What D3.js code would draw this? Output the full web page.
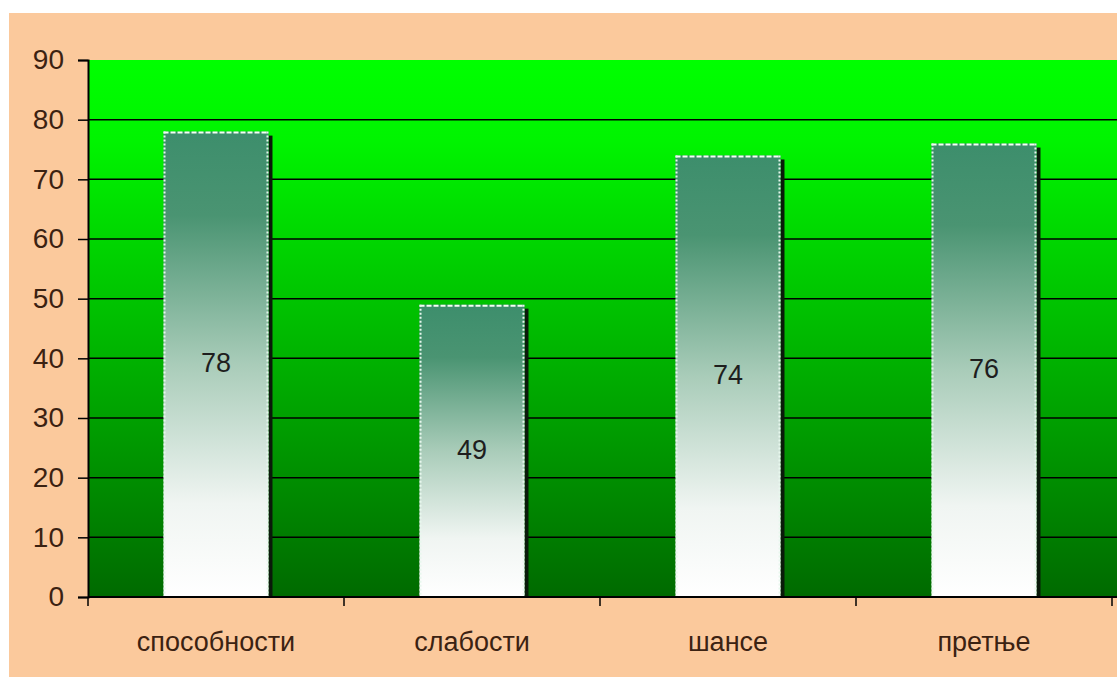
<!DOCTYPE html>
<html><head><meta charset="utf-8">
<script src="https://cdn.jsdelivr.net/npm/d3@7"></script>
<style>body{margin:0;background:#fff;}svg{display:block;}</style>
</head><body>
<svg id="c" width="1117" height="683"></svg>
<script>
const categories = ["способности", "слабости", "шансе", "претње"];
const values = [78, 49, 74, 76];
const yTicks = [0, 10, 20, 30, 40, 50, 60, 70, 80, 90];

const W = 1117, H = 683;
const svg = d3.select("#c");
const m = {left: 88, right: 1112, top: 60, bottom: 597};
const FONT = "Liberation Sans, Arial, sans-serif";

const defs = svg.append("defs");
const bg = defs.append("linearGradient").attr("id","bgGrad").attr("x1",0).attr("y1",0).attr("x2",0).attr("y2",1);
bg.append("stop").attr("offset","0%").attr("stop-color","#00ff00");
bg.append("stop").attr("offset","15%").attr("stop-color","#00f400");
bg.append("stop").attr("offset","100%").attr("stop-color","#006a00");
const bar = defs.append("linearGradient").attr("id","barGrad").attr("x1",0).attr("y1",0).attr("x2",0).attr("y2",1);
bar.append("stop").attr("offset","0%").attr("stop-color","#3d8e6c");
bar.append("stop").attr("offset","18%").attr("stop-color","#4a9472");
bar.append("stop").attr("offset","50%").attr("stop-color","#a9ccb9");
bar.append("stop").attr("offset","80%").attr("stop-color","#f0f5f2");
bar.append("stop").attr("offset","100%").attr("stop-color","#ffffff");

// page frame
svg.append("rect").attr("x",9).attr("y",13).attr("width",W-9).attr("height",664).attr("fill","#fbc99c");

const x = d3.scaleBand().domain(categories).range([m.left, m.right]).paddingInner(0).paddingOuter(0);
const y = d3.scaleLinear().domain([0, 90]).range([m.bottom, m.top]);

svg.append("rect").attr("x",m.left).attr("y",m.top).attr("width",m.right-m.left+5).attr("height",m.bottom-m.top).attr("fill","url(#bgGrad)");

// gridlines
svg.append("g").selectAll("line").data(yTicks.filter(d=>d>0 && d<90)).join("line")
  .attr("x1",m.left).attr("x2",W).attr("y1",d=>y(d)).attr("y2",d=>y(d))
  .attr("stroke","#000").attr("stroke-width",1.5);

const bw = x.bandwidth()*0.41;
const bx = d => x(d) + (x.bandwidth()-bw)/2;

// shadows
svg.append("g").selectAll("rect").data(categories).join("rect")
  .attr("x",d=>bx(d)+bw).attr("y",(d,i)=>y(values[i])+4)
  .attr("width",4).attr("height",(d,i)=>m.bottom-y(values[i])-4).attr("fill","#0a1a0a");

// bars
const bars = svg.append("g").selectAll("g").data(categories).join("g");
bars.append("rect").attr("x",bx).attr("y",(d,i)=>y(values[i]))
  .attr("width",bw).attr("height",(d,i)=>m.bottom-y(values[i])).attr("fill","url(#barGrad)");
bars.append("line").attr("x1",bx).attr("x2",d=>bx(d)+bw)
  .attr("y1",(d,i)=>y(values[i])+1).attr("y2",(d,i)=>y(values[i])+1)
  .attr("stroke","#f4fff4").attr("stroke-width",2).attr("stroke-dasharray","5,2");
bars.append("line").attr("x1",d=>bx(d)+1).attr("x2",d=>bx(d)+1)
  .attr("y1",(d,i)=>y(values[i])).attr("y2",m.bottom)
  .attr("stroke","#e8f8ee").attr("stroke-width",2).attr("stroke-dasharray","2,2");
bars.append("line").attr("x1",d=>bx(d)+bw-1).attr("x2",d=>bx(d)+bw-1)
  .attr("y1",(d,i)=>y(values[i])).attr("y2",m.bottom)
  .attr("stroke","#e8f8ee").attr("stroke-width",2).attr("stroke-dasharray","2,2");

// value labels
svg.append("g").selectAll("text").data(categories).join("text")
  .attr("x",d=>x(d)+x.bandwidth()/2).attr("y",(d,i)=>y(values[i]/2)-1)
  .attr("text-anchor","middle").attr("dominant-baseline","central")
  .attr("font-family",FONT).attr("font-size",27)
  .attr("fill","#1e1e1e").text((d,i)=>values[i]);

// axes
const yAxis = d3.axisLeft(y).tickValues(yTicks).tickSize(10).tickPadding(14);
const gy = svg.append("g").attr("transform",`translate(${m.left},0)`).call(yAxis);
gy.select(".domain").attr("stroke","#000").attr("stroke-width",2);
gy.selectAll(".tick line").attr("stroke","#000").attr("stroke-width",1.5);
gy.selectAll("text").attr("font-family",FONT).attr("font-size",28).attr("fill","#3b2212");

const xAxis = d3.axisBottom(x).tickSize(0).tickPadding(35);
const gx = svg.append("g").attr("transform",`translate(0,${m.bottom})`).call(xAxis);
gx.select(".domain").remove();
gx.selectAll("text").attr("font-family",FONT).attr("font-size",27).attr("fill","#3b2212");
svg.append("line").attr("x1",m.left).attr("x2",W).attr("y1",m.bottom).attr("y2",m.bottom).attr("stroke","#000").attr("stroke-width",2);
const bounds = categories.map(c=>x(c)).concat([m.right]);
svg.append("g").selectAll("line").data(bounds).join("line")
  .attr("x1",d=>d).attr("x2",d=>d).attr("y1",m.bottom).attr("y2",m.bottom+9)
  .attr("stroke","#000").attr("stroke-width",1.5);
</script>
</body></html>
